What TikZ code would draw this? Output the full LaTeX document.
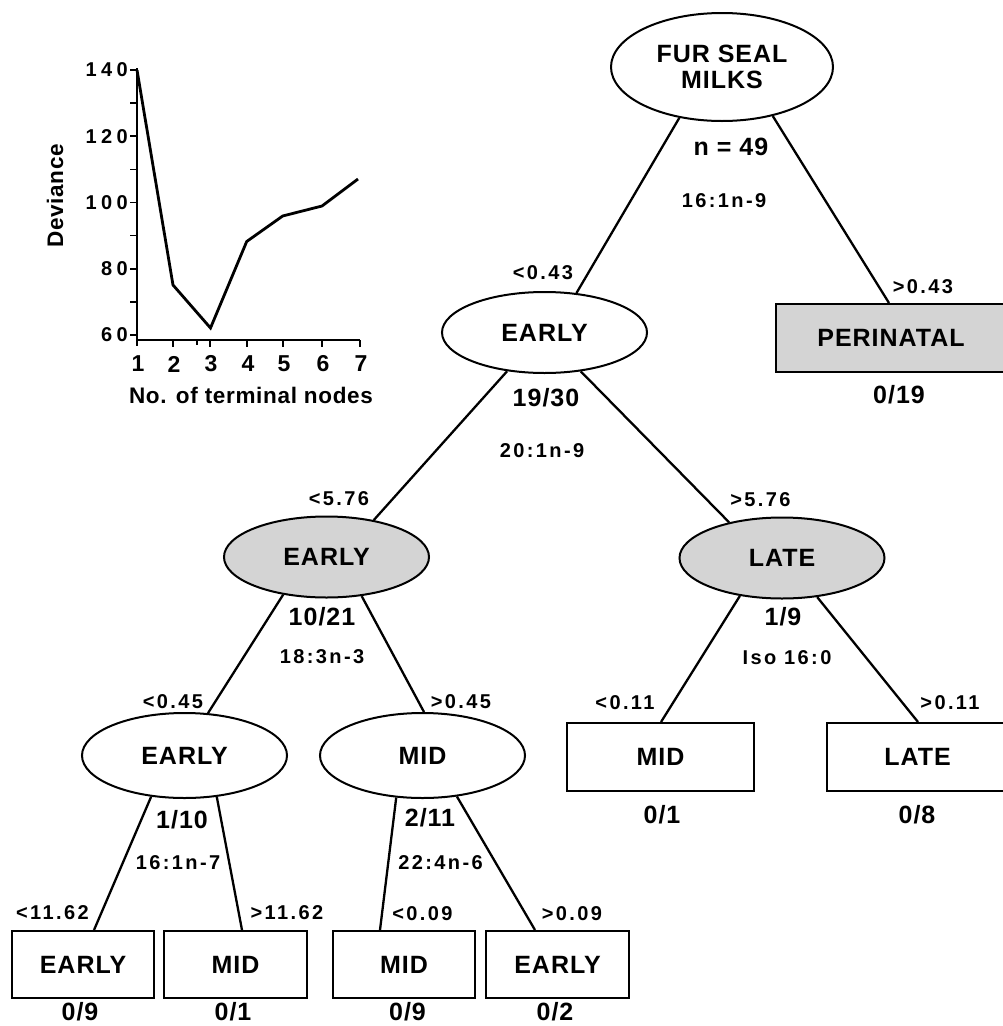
\documentclass[tikz,border=0pt]{standalone}
\usepackage{fontspec}
\setmainfont{Liberation Sans}
\newfontfamily\bigf[LetterSpace=4]{Liberation Sans}
\newfontfamily\smf[LetterSpace=12]{Liberation Sans}
\newfontfamily\ynf[LetterSpace=22]{Liberation Sans}
\newfontfamily\axf[LetterSpace=3]{Liberation Sans}
\usetikzlibrary{shapes.geometric}
\begin{document}
\begin{tikzpicture}[x=1pt,y=-1pt,
  big/.style={inner sep=0pt,font=\bigf\bfseries\fontsize{25}{26}\selectfont},
  lab/.style={inner sep=0pt,font=\smf\bfseries\fontsize{20}{22}\selectfont},
  oval/.style={ellipse,draw,line width=2pt,inner sep=0pt,minimum width=205pt,minimum height=81pt,big},
  shaded/.style={fill=black!17},
  leaf/.style={rectangle,draw,line width=2pt,inner sep=0pt,minimum height=67pt,big},
  edge/.style={line width=2.3pt},
  axis/.style={line width=2.2pt},
  tick/.style={line width=1.6pt},
  curve/.style={line width=2.8pt,line join=miter},
  axnum/.style={inner sep=0pt,font=\ynf\bfseries\fontsize{20}{22}\selectfont},
  xnum/.style={inner sep=0pt,font=\axf\bfseries\fontsize{23}{25}\selectfont},
  axtitle/.style={inner sep=0pt,font=\axf\bfseries\fontsize{22.5}{26}\selectfont}]
\useasboundingbox (0,0) rectangle (1003,1026);

% ---------- deviance plot ----------
\draw[axis] (137,68) -- (137,346);
\draw[axis] (137,340) -- (360,340);
\foreach \yy in {70,103.1,136.25,169.4,202.5,235.6,268.75,301.9,335}
  \draw[tick] (130,\yy) -- (137,\yy);
\foreach \xx in {173,210,247,283,322,360}
  \draw[tick] (\xx,340) -- (\xx,347);
\draw[tick] (197,340) -- (197,345);
\node[axnum,anchor=east] (y140) at (128,70) {140};
\node[axnum,anchor=east] (y120) at (128,136.25) {120};
\node[axnum,anchor=east] (y100) at (128,202.5) {100};
\node[axnum,anchor=east] (y80) at (128,268.75) {80};
\node[axnum,anchor=east] (y60) at (128,335) {60};
\node[xnum] (x1) at (138,364) {1};
\node[xnum] (x2) at (174,364) {2};
\node[xnum] (x3) at (211,364) {3};
\node[xnum] (x4) at (248,364) {4};
\node[xnum] (x5) at (284,364) {5};
\node[xnum] (x6) at (323,364) {6};
\node[xnum] (x7) at (361,364) {7};
\node[axtitle] (xtitle) at (251,395) {No. of terminal nodes};
\node[axtitle,rotate=90] (ytitle) at (55,196) {Deviance};
\draw[curve] (137,70) -- (173,285) -- (210.5,328) -- (246.7,241.5) -- (282.7,216) -- (322,206) -- (358,179);

% ---------- tree nodes ----------
\node[oval,minimum width=222pt,minimum height=108pt,align=center] (root) at (722,67) {FUR SEAL\\MILKS};
\node[oval] (e1) at (544.5,332.5) {EARLY};
\node[oval,shaded] (e2) at (326.5,557) {EARLY};
\node[oval,shaded] (late) at (782,558) {LATE};
\node[oval,minimum height=85pt] (e3) at (184.5,755.5) {EARLY};
\node[oval,minimum height=85pt] (mid) at (422.5,755.5) {MID};

\node[leaf,shaded,minimum width=230pt,minimum height=68pt] (peri) at (891,338) {PERINATAL};
\node[leaf,minimum width=187pt,minimum height=68pt] (lmid) at (660.5,757) {MID};
\node[leaf,minimum width=181pt,minimum height=68pt] (llate) at (917.5,757) {LATE};
\node[leaf,minimum width=142pt] (le1) at (83,964.5) {EARLY};
\node[leaf,minimum width=143pt] (lm1) at (235.5,964.5) {MID};
\node[leaf,minimum width=142pt] (lm2) at (404,964.5) {MID};
\node[leaf,minimum width=143pt] (le2) at (557.5,964.5) {EARLY};

% ---------- connectors ----------
\draw[edge] (root.230) -- (e1.51);
\draw[edge] (root.316) -- ([xshift=114pt]peri.north west);
\draw[edge] (e1.226) -- (e2.38);
\draw[edge] (e1.313) -- (late.146);
\draw[edge] (e2.221) -- (e3.61);
\draw[edge] (e2.312) -- (mid.88);
\draw[edge] (late.222) -- ([xshift=95pt]lmid.north west);
\draw[edge] (late.312) -- ([xshift=92pt]llate.north west);
\draw[edge] (e3.231) -- ([xshift=83pt]le1.north west);
\draw[edge] (e3.308) -- ([xshift=79pt]lm1.north west);
\draw[edge] (mid.238) -- ([xshift=48pt]lm2.north west);
\draw[edge] (mid.310) -- ([xshift=50pt]le2.north west);

% ---------- labels ----------
\node[big] (n49) at (731,147) {n = 49};
\node[lab] (c0) at (724,201) {16:1n-9};
\node[lab] (s1) at (923,287) {>0.43};
\node[big] (r0) at (899,395) {0/19};

\node[lab] (s2) at (543,273) {<0.43};
\node[big] (r1) at (546,398) {19/30};
\node[lab] (c1) at (542,451) {20:1n-9};

\node[lab] (s3) at (339,499) {<5.76};
\node[lab] (s4) at (760.5,500) {>5.76};
\node[big] (r2) at (322,617) {10/21};
\node[lab] (c2) at (322,657) {18:3n-3};
\node[big] (r3) at (783,617) {1/9};
\node[lab] (c3) at (787,658) {Iso 16:0};

\node[lab] (s5) at (173,702) {<0.45};
\node[lab] (s6) at (461,702) {>0.45};
\node[lab] (s7) at (625,703) {<0.11};
\node[lab] (s8) at (950,703) {>0.11};
\node[big] (r4) at (662,815) {0/1};
\node[big] (r5) at (917,815) {0/8};

\node[big] (r6) at (182,820) {1/10};
\node[lab] (c4) at (178,863) {16:1n-7};
\node[big] (r7) at (430,818) {2/11};
\node[lab] (c5) at (440.5,863) {22:4n-6};

\node[lab] (s9) at (52.5,913) {<11.62};
\node[lab] (s10) at (287,913) {>11.62};
\node[lab] (s11) at (422.5,914) {<0.09};
\node[lab] (s12) at (572,914) {>0.09};

\node[big] (r8) at (80,1012) {0/9};
\node[big] (r9) at (233,1012) {0/1};
\node[big] (r10) at (407.5,1012) {0/9};
\node[big] (r11) at (555,1012) {0/2};
\end{tikzpicture}
\end{document}
